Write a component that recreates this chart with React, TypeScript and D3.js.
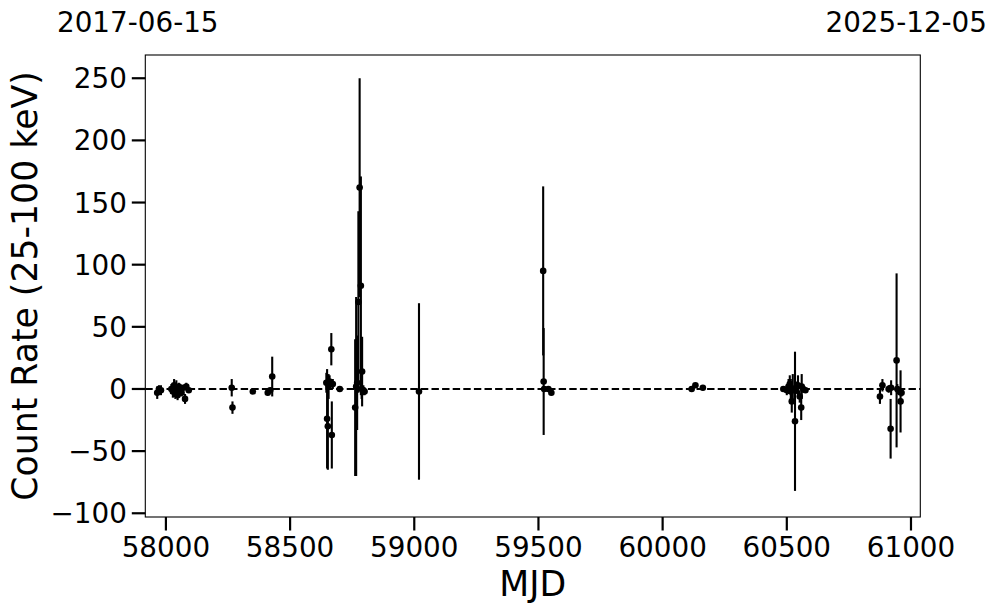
import React from "react";
import * as d3 from "d3";

const mjd: number[] = [
  57965, 57972, 57980, 58022, 58028, 58033, 58038, 58042, 58047, 58052, 58057, 58063, 58070, 58077, 58082, 58092,
  58265, 58268, 58350, 58410, 58420, 58428,
  58646, 58649, 58652, 58655, 58659, 58666, 58668, 58672, 58700,
  58762, 58766, 58770, 58775, 58780, 58785, 58788, 58790, 58795, 58800,
  59019, 59519, 59521, 59523, 59540, 59552,
  60117, 60132, 60162,
  60486, 60500, 60507, 60512, 60516, 60520, 60524, 60533, 60537, 60545, 60552, 60558, 60560, 60566, 60575,
  60875, 60885, 60910, 60918, 60920, 60942, 60945, 60952, 60958, 60962,
];
const rate: number[] = [
  -3, 0, -1, 0, -2, 3, -4, 1, -5, 2, -1, -3, 1, -8, 2, -1,
  1, -15, -2, -3, -1, 10,
  5, -24, -30, 2, 6, 32, -37, 4, 0,
  -15, 2, 5, 70, 162, 83, 0, 14, -1, -2,
  -2, 95, 6, 0, 0, -3,
  0, 3, 1,
  0, -1, 2, 4, -2, -10, 0, -26, 1, 3, -6, -15, 2, 0, -1,
  -6, 3, 0, -32, 1, 23, 0, -2, -10, -3,
];
const rateErr: number[] = [
  5, 3, 4, 4, 5, 5, 4, 6, 4, 3, 4, 3, 2, 4, 3, 2,
  7, 5, 1.5, 2, 2, 16,
  8, 40, 35, 10, 5, 13, 27, 4, 2,
  55, 72, 38, 73, 88, 88, 8, 28, 4, 3,
  71, 68, 43, 2, 2, 2,
  2, 1.5, 2,
  2, 4, 6, 7, 10, 9, 12, 56, 5, 8, 5, 10, 10, 3, 2,
  6, 5, 3, 24, 6, 70, 4, 3, 25, 3,
];
const xTicks: number[] = [58000, 58500, 59000, 59500, 60000, 60500, 61000];
const yTicks: number[] = [-100, -50, 0, 50, 100, 150, 200, 250];
const startDate = "2017-06-15";
const endDate = "2025-12-05";
const xLabel = "MJD";
const yLabel = "Count Rate (25-100 keV)";

const W = 997;
const H = 613;
const L = 145.3, R = 920.3, T = 55, B = 517;
const FONT = "DejaVu Sans, sans-serif";

export default function App() {
  const x = d3.scaleLinear().domain([57917, 61037.5]).range([L, R]);
  const y = d3.scaleLinear().domain([-103, 268.7]).range([B, T]);
  const pts = mjd.map((m, i) => ({ m, v: rate[i], e: rateErr[i] }));
  const fmt = (v: number) => (v < 0 ? "\u2212" + Math.abs(v) : String(v));
  const tickLen = 13.5;
  return (
    <svg width={W} height={H} style={{ position: "absolute", left: 0, top: 0, background: "#fff" }} fontFamily={FONT}>
      <rect x={0} y={0} width={W} height={H} fill="#fff" />
      <line x1={L} x2={R} y1={y(0)} y2={y(0)} stroke="#000" strokeWidth={2} strokeDasharray="7.4,3.2" />
      <g>
        {pts.map((p, i) => (
          <line key={"e" + i} x1={x(p.m)} x2={x(p.m)} y1={y(p.v + p.e)} y2={y(p.v - p.e)} stroke="#000" strokeWidth={2.1} />
        ))}
        {pts.map((p, i) => (
          <circle key={"c" + i} cx={x(p.m)} cy={y(p.v)} r={3.3} fill="#000" />
        ))}
      </g>
      <rect x={L} y={T} width={R - L} height={B - T} fill="none" stroke="#000" strokeWidth={1.1} />
      {xTicks.map((t) => (
        <g key={"xt" + t}>
          <line x1={x(t)} x2={x(t)} y1={B} y2={B + tickLen} stroke="#000" strokeWidth={2.2} />
          <text x={x(t)} y={557} fontSize={27.8} textAnchor="middle" fill="#000">{t}</text>
        </g>
      ))}
      {yTicks.map((t) => (
        <g key={"yt" + t}>
          <line x1={L - tickLen} x2={L} y1={y(t)} y2={y(t)} stroke="#000" strokeWidth={2.2} />
          <text x={L - tickLen - 4.9} y={y(t)} dy="0.36em" fontSize={27.8} textAnchor="end" fill="#000">{fmt(t)}</text>
        </g>
      ))}
      <text x={(L + R) / 2} y={596} fontSize={34.7} textAnchor="middle" fill="#000">{xLabel}</text>
      <text transform={`translate(37, ${(T + B) / 2}) rotate(-90)`} fontSize={34.7} textAnchor="middle" fill="#000">{yLabel}</text>
      <text x={57} y={32} fontSize={27.8} textAnchor="start" fill="#000">{startDate}</text>
      <text x={987} y={32} fontSize={27.8} textAnchor="end" fill="#000">{endDate}</text>
    </svg>
  );
}
